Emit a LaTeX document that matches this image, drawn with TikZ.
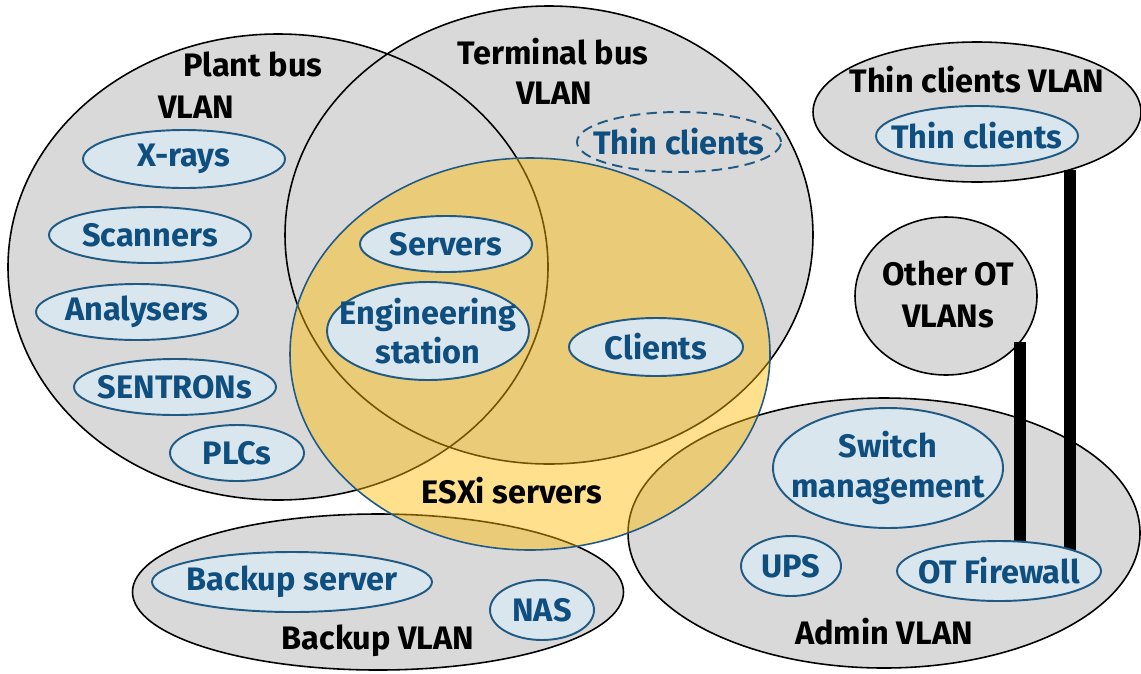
\documentclass[tikz,border=0pt]{standalone}
\usepackage{fontspec}
\setmainfont{Fira Sans}
\usetikzlibrary{shapes.geometric}
\definecolor{vlangrey}{HTML}{D9D9D9}
\definecolor{esxiyellow}{HTML}{FFBA00}
\definecolor{hostfill}{HTML}{DAE6EE}
\definecolor{hostedge}{HTML}{1F5A85}
\definecolor{hosttext}{HTML}{0F4F80}
\pgfdeclarelayer{bg}
\pgfdeclarelayer{wire}
\pgfsetlayers{bg,wire,main}
\tikzset{
  ovalsize/.style 2 args={minimum width=#1*0.02cm, minimum height=#2*0.02cm},
  vlan/.style={ellipse, inner sep=0pt, fill=vlangrey},
  vlanline/.style={line width=0.9pt},
  hostlabel/.style={text=hosttext, font=\bfseries\fontsize{18.5}{22.5}\selectfont, align=center},
  host/.style={ellipse, inner sep=0pt, draw=hostedge, fill=hostfill, line width=1.1pt,
    label={[hostlabel]center:#1}},
  vlanlabel/.style={anchor=base, font=\bfseries\fontsize{18.5}{22.5}\selectfont},
  link/.style={line width=7pt}
}
\begin{document}
\begin{tikzpicture}[x=0.02cm,y=-0.02cm]
\useasboundingbox (0,0) rectangle (1141,673);
\begin{pgfonlayer}{bg}
  \node[vlan, ovalsize={540}{466}] (plant) at (278,267) {};
  \node[vlan, ovalsize={528}{458}] (term) at (549,235) {};
  \node[vlan, ovalsize={491}{156}] (backup) at (378,592) {};
  \node[vlan, ovalsize={512}{270}] (admin) at (884,533) {};
  \node[vlan, ovalsize={328}{140}] (thinvlan) at (977,112) {};
  \node[vlan, ovalsize={182}{158}] (othot) at (946,296) {};
  % outlines after all the grey, so overlaps stay visible
  \foreach \v/\rx/\ry in {plant/270/233, term/264/229, backup/245.5/78,
                          admin/256/135, thinvlan/164/70, othot/91/79}
    \draw[vlanline] (\v.center) ellipse [x radius=\rx, y radius=\ry];
  \node[ellipse, inner sep=0pt, ovalsize={480}{392}, fill=esxiyellow, fill opacity=0.45,
        draw=hostedge, line width=0.9pt] (esxi) at (530,354) {};
\end{pgfonlayer}

\node[vlanlabel] (plantl1) at (253,76) {Plant bus};
\node[vlanlabel] (plantl2) at (196,118) {VLAN};
\node[vlanlabel] (terml1) at (553,64) {Terminal bus};
\node[vlanlabel] (terml2) at (554,104) {VLAN};
\node[vlanlabel] (esxil) at (512,503) {ESXi servers};
\node[vlanlabel] (backupl) at (378,649) {Backup VLAN};
\node[vlanlabel] (adminl) at (884,644) {Admin VLAN};
\node[vlanlabel] (thinvlanl) at (977,92) {Thin clients VLAN};
\node[vlanlabel] (othotl1) at (948,285) {Other OT};
\node[vlanlabel] (othotl2) at (948,327) {VLANs};

\node[host={X-rays}, ovalsize={202}{58}] (xrays) at (184,159) {};
\node[host={Scanners}, ovalsize={202}{56}] (scanners) at (150,235) {};
\node[host={Analysers}, ovalsize={202}{56}] (analysers) at (137,312) {};
\node[host={SENTRONs}, ovalsize={202}{56}] (sentrons) at (175,387) {};
\node[host={PLCs}, ovalsize={134}{56}] (plcs) at (237,453) {};
\node[host={Servers}, ovalsize={172}{56}] (servers) at (446,244) {};
\node[host={Engineering\\station}, ovalsize={202}{98}] (engst) at (428,331) {};
\node[host={Clients}, ovalsize={174}{58}] (clients) at (656,347) {};
\node[host={Thin clients}, ovalsize={204}{60}, dash pattern=on 6pt off 3.5pt, fill=none] (thinc) at (679,142) {};
\node[host={Thin clients}, ovalsize={202}{60}] (thincv) at (977,136) {};
\node[host={Switch\\management}, ovalsize={230}{120}] (swmgmt) at (888,468) {};
\node[host={UPS}, ovalsize={100}{60}] (ups) at (791,566) {};
\node[host={OT Firewall}, ovalsize={204}{60}] (otfw) at (999,571) {};
\node[host={Backup server}, ovalsize={280}{60}] (bkserver) at (292,582) {};
\node[host={NAS}, ovalsize={104}{60}] (nas) at (542,610) {};

\begin{pgfonlayer}{wire}
  \draw[link] (othot.-32) -- (othot.-32 |- otfw.center);
  \draw[link] (thinvlan.-32.5) -- (thinvlan.-32.5 |- otfw.center);
\end{pgfonlayer}
\end{tikzpicture}
\end{document}
